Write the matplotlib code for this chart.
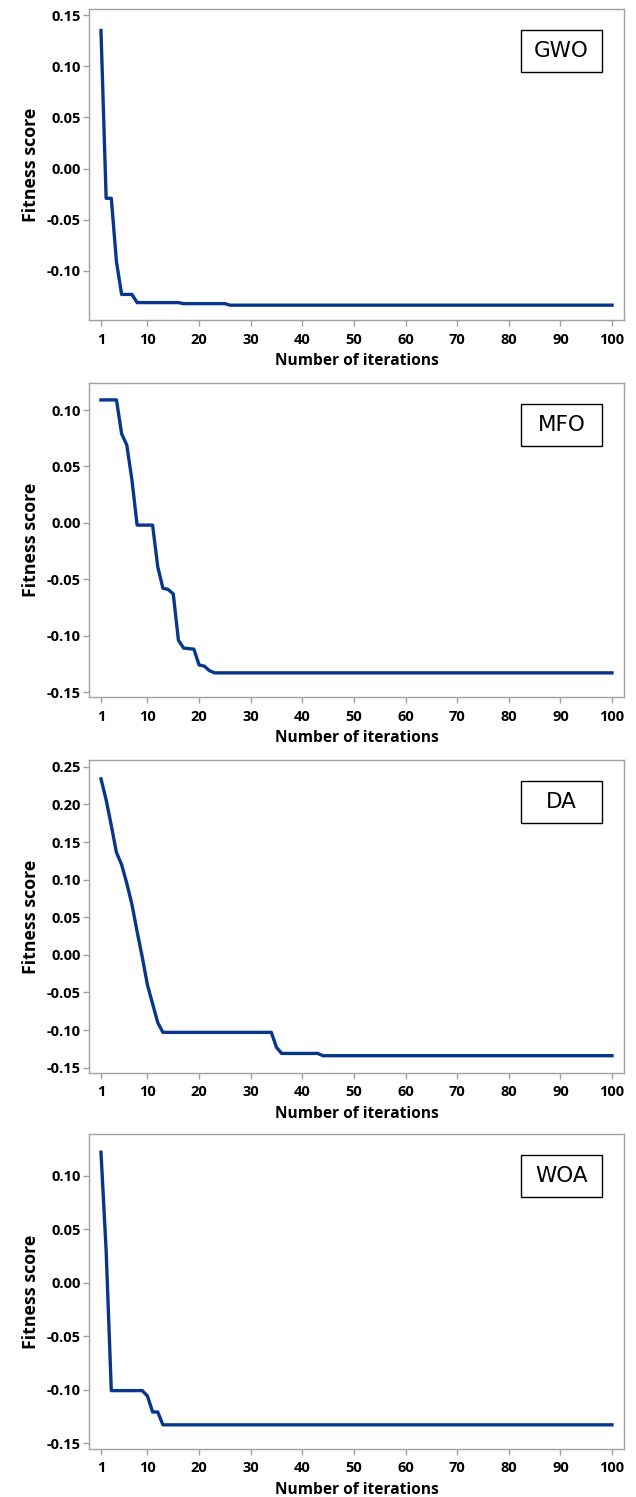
import matplotlib
matplotlib.use("Agg")
import matplotlib.pyplot as plt
from matplotlib.patches import Rectangle

# Points (iteration, fitness score)
gwo_iter = [1, 2, 3, 4, 5, 7, 8, 16, 17, 25, 26, 100]
gwo_fit = [0.135, -0.029, -0.029, -0.091, -0.123, -0.123, -0.131, -0.131,
           -0.132, -0.132, -0.1335, -0.1335]

mfo_iter = [1, 4, 5, 6, 7, 8, 11, 12, 13, 14, 15, 16, 17, 19, 20, 21, 22, 23, 100]
mfo_fit = [0.109, 0.109, 0.079, 0.069, 0.038, -0.002, -0.002, -0.039, -0.058,
           -0.059, -0.063, -0.104, -0.111, -0.112, -0.126, -0.127, -0.131,
           -0.133, -0.133]

da_iter = [1, 2, 3, 4, 5, 6, 7, 8, 9, 10, 11, 12, 13, 34, 35, 36, 43, 44, 100]
da_fit = [0.234, 0.206, 0.172, 0.136, 0.120, 0.095, 0.067, 0.031, -0.003,
          -0.040, -0.065, -0.090, -0.103, -0.103, -0.123, -0.131, -0.131,
          -0.134, -0.134]

woa_iter = [1, 2, 3, 9, 10, 11, 12, 13, 100]
woa_fit = [0.122, 0.030, -0.101, -0.101, -0.106, -0.121, -0.121, -0.133, -0.133]

labels = ["GWO", "MFO", "DA", "WOA"]
x_ticks = [1, 10, 20, 30, 40, 50, 60, 70, 80, 90, 100]
y_ticks = [
    [0.15, 0.10, 0.05, 0.00, -0.05, -0.10],
    [0.10, 0.05, 0.00, -0.05, -0.10, -0.15],
    [0.25, 0.20, 0.15, 0.10, 0.05, 0.00, -0.05, -0.10, -0.15],
    [0.10, 0.05, 0.00, -0.05, -0.10, -0.15],
]
y_limits = [(-0.148, 0.156), (-0.1544, 0.124), (-0.157, 0.259), (-0.1556, 0.139)]

series = [(gwo_iter, gwo_fit), (mfo_iter, mfo_fit), (da_iter, da_fit), (woa_iter, woa_fit)]

W, H = 636, 1497
fig = plt.figure(figsize=(W / 100, H / 100), dpi=100)

# panel extents in pixels (top, bottom)
panels_px = [(9, 320), (383, 697), (760, 1073), (1134, 1449)]
left_px, right_px = 89, 624

line_color = "#07378a"
spine_color = "#a0a0a0"
fam = ["Open Sans", "DejaVu Sans"]
tick_font = dict(family=fam, weight="bold", size=10.5)

for i, (top, bottom) in enumerate(panels_px):
    ax = fig.add_axes([left_px / W, 1 - bottom / H,
                       (right_px - left_px) / W, (bottom - top) / H])
    xs, ys = series[i]
    ax.plot(xs, ys, color=line_color, linewidth=2.4, solid_joinstyle="round")

    ax.set_xlim(-1.32, 102.32)
    ax.set_ylim(*y_limits[i])
    ax.set_xticks(x_ticks)
    ax.set_yticks(y_ticks[i])
    ax.set_xticklabels([str(t) for t in x_ticks], fontdict=tick_font)
    ax.set_yticklabels(["%.2f" % t for t in y_ticks[i]], fontdict=tick_font)

    for sp in ax.spines.values():
        sp.set_color(spine_color)
        sp.set_linewidth(1.0)
    ax.tick_params(direction="out", length=4, width=1.0, color=spine_color,
                   labelcolor="black")
    ax.tick_params(axis="x", pad=5)
    ax.tick_params(axis="y", pad=2)

    ax.set_xlabel("Number of iterations", family=fam,
                  weight="bold", size=11.2, labelpad=5)
    ax.set_ylabel("Fitness score", family=fam,
                  weight="bold", size=12.8, labelpad=5)

    # boxed algorithm label in the upper right corner
    h = bottom - top
    bx0 = (521 - left_px) / (right_px - left_px)
    bw = 81 / (right_px - left_px)
    by1 = 1 - 21 / h
    bh = 42 / h
    ax.add_patch(Rectangle((bx0, by1 - bh), bw, bh, transform=ax.transAxes,
                           fill=False, edgecolor="black", linewidth=1.0))
    ax.text(bx0 + bw / 2, by1 - bh / 2, labels[i], transform=ax.transAxes,
            ha="center", va="center", fontsize=15.5, family="DejaVu Sans")

fig.savefig("out.png", dpi=100)
